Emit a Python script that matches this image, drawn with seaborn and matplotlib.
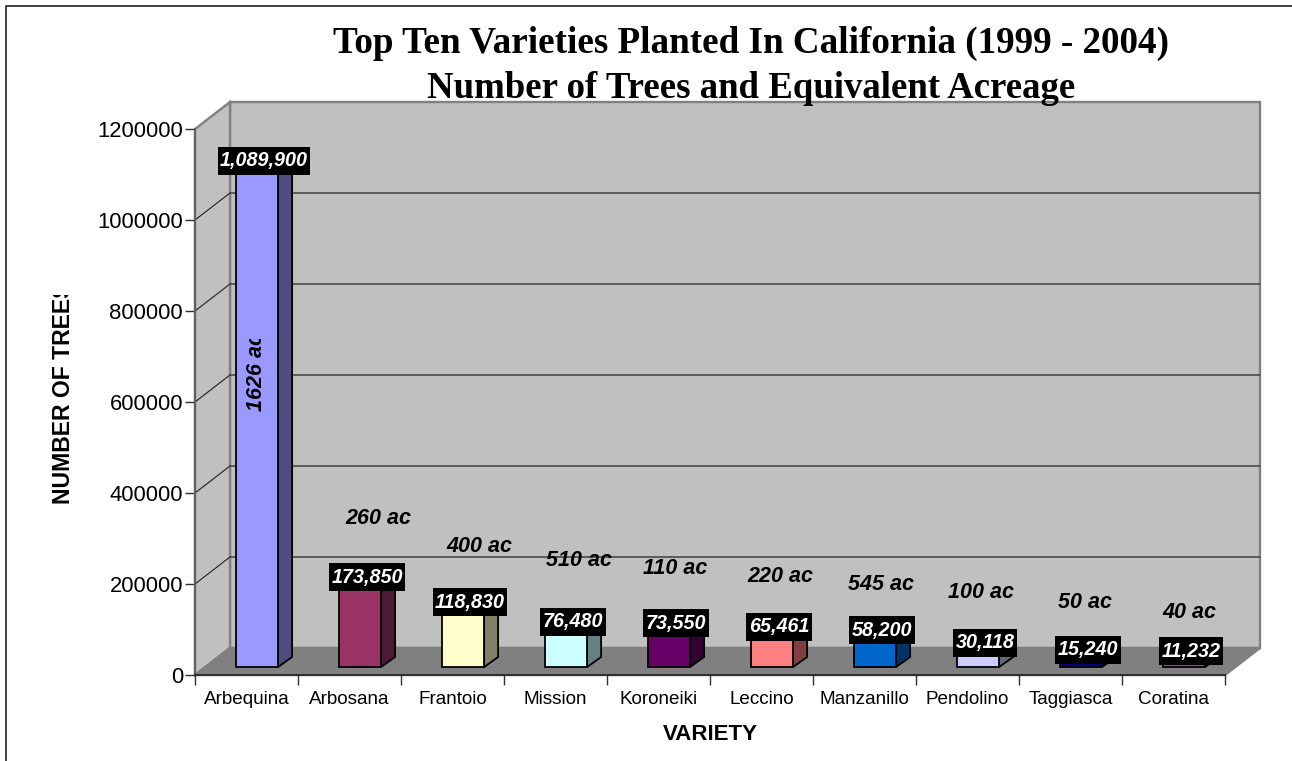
import numpy as np
import pandas as pd
import seaborn as sns
import matplotlib.pyplot as plt
import matplotlib.colors as mcolors
from matplotlib.patches import Polygon, Rectangle
from matplotlib.transforms import Affine2D, IdentityTransform

# Datos
varieties = ['Arbequina', 'Arbosana', 'Frantoio', 'Mission', 'Koroneiki',
             'Leccino', 'Manzanillo', 'Pendolino', 'Taggiasca', 'Coratina']
trees = [1089900, 173850, 118830, 76480, 73550, 65461, 58200, 30118, 15240, 11232]
acres = ['1626 ac', '260 ac', '400 ac', '510 ac', '110 ac',
         '220 ac', '545 ac', '100 ac', '50 ac', '40 ac']
bar_colors = ['#9999FF', '#993366', '#FFFFCC', '#CCFFFF', '#660066',
              '#FF8080', '#0066CC', '#CCCCFF', '#000080', '#FF00FF']
y_ticks = [0, 200000, 400000, 600000, 800000, 1000000, 1200000]

# Posicion de las etiquetas de acres (pixeles de la imagen)
acre_x = [257, 378.5, 479, 578.5, 675.5, 780, 880.5, 981.5, 1085.5, 1189.5]
acre_y = [372, 519, 547, 560, 568, 577, 585, 593, 603, 612]

W, H = 1292, 761
WALL = '#C0C0C0'
FLOOR = '#808080'
EDGE = '#808080'

sns.set_style('white', {'text.color': 'black', 'xtick.color': 'black',
                        'ytick.color': 'black', 'axes.labelcolor': 'black'})
plt.rcParams['font.family'] = ['Liberation Sans', 'DejaVu Sans']

df = pd.DataFrame({'variety': varieties, 'trees': trees})

fig = plt.figure(figsize=(W / 100, H / 100), dpi=100)
ax = fig.add_axes([195 / W, (H - 675) / H, 1030 / W, 546 / H])
ax.patch.set_alpha(0)

sns.barplot(data=df, x='variety', y='trees', hue='variety', palette=bar_colors,
            legend=False, width=0.41, saturation=1, edgecolor='black',
            linewidth=1.3, ax=ax)
ax.set_xlim(-0.5, 9.5)
ax.set_ylim(0, 1200000)


def to_px(x, y):
    return ax.transData.transform((x, y))


def face(points, color, z, edge=EDGE, lw=1.7):
    p = Polygon(points, closed=True, facecolor=color, edgecolor=edge, linewidth=lw,
                transform=IdentityTransform(), clip_on=False, zorder=z)
    ax.add_patch(p)


# Paredes y piso de la caja 3D
dx, dy = 35, 27
x0, y0 = to_px(-0.5, 0)
x1, y1 = to_px(9.5, 1200000)
face([(x0 + dx, y0 + dy), (x1 + dx, y0 + dy), (x1 + dx, y1 + dy), (x0 + dx, y1 + dy)], WALL, 0.1)
face([(x0, y0), (x0 + dx, y0 + dy), (x0 + dx, y1 + dy), (x0, y1)], WALL, 0.1)
face([(x0, y0), (x1, y0), (x1 + dx, y0 + dy), (x0 + dx, y0 + dy)], FLOOR, 0.2)

for t in y_ticks[1:-1]:
    yt = to_px(-0.5, t)[1]
    ax.plot([x0, x0 + dx], [yt, yt + dy], color='#202020', lw=0.8,
            transform=IdentityTransform(), clip_on=False, zorder=0.3)
    ax.plot([x0 + dx, x1 + dx], [yt + dy, yt + dy], color='#404040', lw=1.1,
            transform=IdentityTransform(), clip_on=False, zorder=0.3)

# Barras: se corren hacia el fondo y se les agrega cara lateral y superior
bar_dx, bar_dy = 10.5, 8
side_dx, side_dy = 14, 10
shift = Affine2D().translate(bar_dx, bar_dy)
for bar, color in zip(ax.patches[:len(varieties)], bar_colors):
    left, w, h = bar.get_x(), bar.get_width(), bar.get_height()
    bar.set_transform(ax.transData + shift)
    bar.set_clip_on(False)
    bar.set_zorder(1.2)
    xa, ya = to_px(left, 0) + (bar_dx, bar_dy)
    xb, yb = to_px(left + w, h) + (bar_dx, bar_dy)
    dark = np.array(mcolors.to_rgb(color)) * 0.5
    face([(xb, ya), (xb + side_dx, ya + side_dy), (xb + side_dx, yb + side_dy), (xb, yb)],
         dark, 1.1, edge='black', lw=1.3)
    face([(xa, yb), (xb, yb), (xb + side_dx, yb + side_dy), (xa + side_dx, yb + side_dy)],
         color, 1.1, edge='black', lw=1.3)

# Ejes
sns.despine(ax=ax)
ax.spines['left'].set_color('#606060')
ax.spines['left'].set_linewidth(1.5)
ax.spines['bottom'].set_color('#303030')
ax.spines['bottom'].set_linewidth(1.5)
ax.set_yticks(y_ticks)
ax.set_yticklabels([str(t) for t in y_ticks])
ax.tick_params(axis='y', length=7.2, width=1, color='#303030', labelsize=15.8, pad=1.5,
               left=True, labelcolor='black')
ax.set_xticks(np.arange(-0.5, 10), labels=[''] * 11)
ax.set_xticks(np.arange(10), labels=varieties, minor=True)
ax.tick_params(axis='x', which='major', length=7, width=1, color='#303030', bottom=True)
ax.tick_params(axis='x', which='minor', length=0, labelsize=13.6, pad=11.5, bottom=False,
               labelcolor='black')
ax.set_xlabel('')
ax.set_ylabel('')


def px(x, y):
    return x / W, 1 - y / H


# Valores sobre cada barra
for i, v in enumerate(trees):
    ax.annotate(f'{v:,}', xy=(i, v), xytext=(17.5, 18.5), textcoords='offset pixels',
                ha='center', va='center', color='white', fontsize=14.2, fontweight='bold',
                fontstyle='italic', annotation_clip=False, zorder=5,
                bbox=dict(boxstyle='square,pad=0.12', facecolor='black', edgecolor='none',
                          mutation_aspect=1.9))

# Etiquetas de acres
for i, (label, xp, yp) in enumerate(zip(acres, acre_x, acre_y)):
    t = fig.text(*px(xp, yp), label, ha='center', va='center', color='black',
                 fontsize=15.5, fontweight='bold', fontstyle='italic',
                 rotation=90 if i == 0 else 0, zorder=6)
    if i == 0:
        # en el original el texto queda cortado arriba
        t.set_clip_path(Rectangle((0, H - 800), W, 800 - 339, transform=IdentityTransform()))
        t.set_clip_on(True)

# Titulo
fig.text(*px(751, 53), 'Top Ten Varieties Planted In California (1999 - 2004)', ha='center',
         va='baseline', family='Liberation Serif', fontweight='bold', fontsize=26.7, color='black')
fig.text(*px(751, 98), 'Number of Trees and Equivalent Acreage', ha='center',
         va='baseline', family='Liberation Serif', fontweight='bold', fontsize=26.5, color='black')

fig.text(*px(710, 735), 'VARIETY', ha='center', va='center', fontsize=16, fontweight='bold')
yl = fig.text(*px(64, 504), 'NUMBER OF TREES', ha='center', va='bottom', rotation=90,
              fontsize=16.6, fontweight='bold')
yl.set_clip_path(Rectangle((0, H - 800), W, 800 - 295, transform=IdentityTransform()))
yl.set_clip_on(True)

# Borde exterior
fig.add_artist(plt.Line2D([6 / W, 6 / W, 1], [0, 1 - 5.5 / H, 1 - 5.5 / H],
                          color='#202020', lw=1.2, transform=fig.transFigure))

fig.savefig('out.png', dpi=100)
